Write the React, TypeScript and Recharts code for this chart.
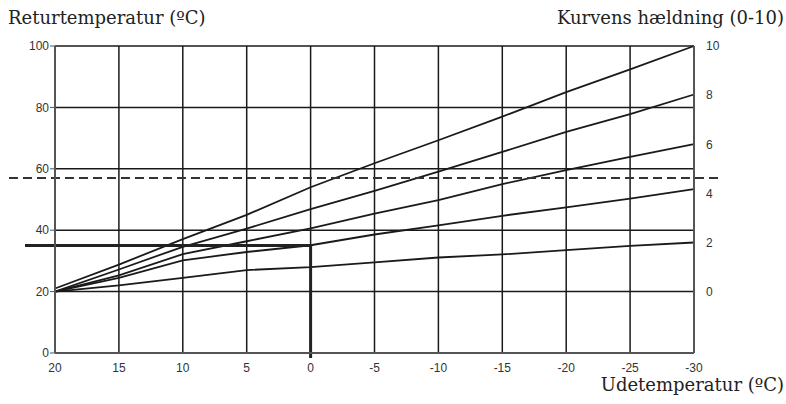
import {
  LineChart,
  Line,
  XAxis,
  YAxis,
  CartesianGrid,
  ReferenceLine,
} from "recharts";

const temps = [20, 15, 10, 5, 0, -5, -10, -15, -20, -25, -30];
const curve10 = [21, 28.8, 37.1, 45, 54, 61.8, 69.3, 77, 85, 92.4, 100];
const curve8 = [20, 27.2, 34.6, 40.5, 46.9, 52.8, 59.1, 65.5, 72, 77.8, 84.2];
const curve6 = [20, 25.3, 32.2, 36.4, 40.6, 45.4, 49.8, 55, 59.6, 63.9, 68];
const curve4 = [20, 24.5, 30.2, 32.9, 35.1, 38.6, 41.6, 44.7, 47.4, 50.3, 53.4];
const curve2 = [20, 22, 24.5, 27, 28, 29.5, 31.1, 32.1, 33.5, 34.9, 36];

const leftTicks = [0, 20, 40, 60, 80, 100];
// curve slope 0..10 sits on the right axis, 0 -> 20 °C, 10 -> 100 °C
const slopeTicks = [0, 2, 4, 6, 8, 10];
const dashedLevel = 57;
const markerTemp = 0;
const markerLevel = 35;

const data = temps.map((t, i) => ({
  t,
  c10: curve10[i],
  c8: curve8[i],
  c6: curve6[i],
  c4: curve4[i],
  c2: curve2[i],
}));

const series = ["c10", "c8", "c6", "c4", "c2"];

const titleStyle: React.CSSProperties = {
  position: "absolute",
  fontFamily: "'DejaVu Serif', serif",
  fontSize: 18,
  lineHeight: "17px",
  color: "#222",
  whiteSpace: "nowrap",
};

const tickStyle = { fontSize: 12, fill: "#333", fontFamily: "'Liberation Sans', Arial, sans-serif" };

export default function App() {
  return (
    <div style={{ position: "relative", width: 786, height: 404, background: "#fff" }}>
      <style>{"body{margin:0}"}</style>
      <div style={{ ...titleStyle, left: 8, top: 9 }}>Returtemperatur (ºC)</div>
      <div style={{ ...titleStyle, right: 2, top: 9 }}>Kurvens hældning (0-10)</div>
      <div style={{ ...titleStyle, right: 2, top: 376 }}>Udetemperatur (ºC)</div>
      <div style={{ position: "absolute", left: 0, top: 0 }}>
        <LineChart
          width={786}
          height={404}
          data={data}
          margin={{ top: 46, right: 52, bottom: 21, left: 5 }}
        >
          <CartesianGrid yAxisId="left" stroke="#1a1a1a" strokeWidth={1.5} />
          <XAxis
            dataKey="t"
            type="number"
            domain={[-30, 20]}
            reversed
            ticks={temps}
            height={30}
            tickLine={false}
            tickMargin={4}
            axisLine={{ stroke: "#555", strokeWidth: 2 }}
            tick={tickStyle}
          />
          <YAxis
            yAxisId="left"
            domain={[0, 100]}
            ticks={leftTicks}
            width={50}
            tickSize={5}
            tickMargin={1}
            tickLine={{ stroke: "#555" }}
            axisLine={{ stroke: "#555", strokeWidth: 2 }}
            tick={tickStyle}
          />
          <YAxis
            yAxisId="right"
            orientation="right"
            domain={[-2.5, 10]}
            allowDataOverflow
            ticks={slopeTicks}
            width={40}
            tickLine={false}
            tickMargin={6}
            axisLine={{ stroke: "#555", strokeWidth: 2 }}
            tick={tickStyle}
          />
          {series.map((k) => (
            <Line
              key={k}
              yAxisId="left"
              dataKey={k}
              type="linear"
              stroke="#1a1a1a"
              strokeWidth={1.8}
              dot={false}
              activeDot={false}
              isAnimationActive={false}
            />
          ))}
          {/* keeps the right axis alive; draws nothing */}
          <Line
            yAxisId="right"
            dataKey="c2"
            stroke="transparent"
            dot={false}
            activeDot={false}
            legendType="none"
            isAnimationActive={false}
          />
          <ReferenceLine
            yAxisId="left"
            y={dashedLevel}
            shape={(p: any) => (
              <line
                x1={p.x1 - 46}
                x2={p.x2 + 24}
                y1={p.y1}
                y2={p.y2}
                stroke="#333"
                strokeWidth={2}
                strokeDasharray="9 5"
              />
            )}
          />
          <ReferenceLine
            yAxisId="left"
            segment={[
              { x: 20, y: markerLevel },
              { x: markerTemp, y: markerLevel },
            ]}
            shape={(p: any) => (
              <line
                x1={Math.min(p.x1, p.x2) - 30}
                x2={Math.max(p.x1, p.x2) + 1.5}
                y1={p.y1}
                y2={p.y2}
                stroke="#222"
                strokeWidth={3}
              />
            )}
          />
          <ReferenceLine
            yAxisId="left"
            segment={[
              { x: markerTemp, y: 0 },
              { x: markerTemp, y: markerLevel },
            ]}
            shape={(p: any) => (
              <line
                x1={p.x1}
                x2={p.x2}
                y1={Math.min(p.y1, p.y2)}
                y2={Math.max(p.y1, p.y2) + 5}
                stroke="#222"
                strokeWidth={3}
              />
            )}
          />
        </LineChart>
      </div>
    </div>
  );
}
